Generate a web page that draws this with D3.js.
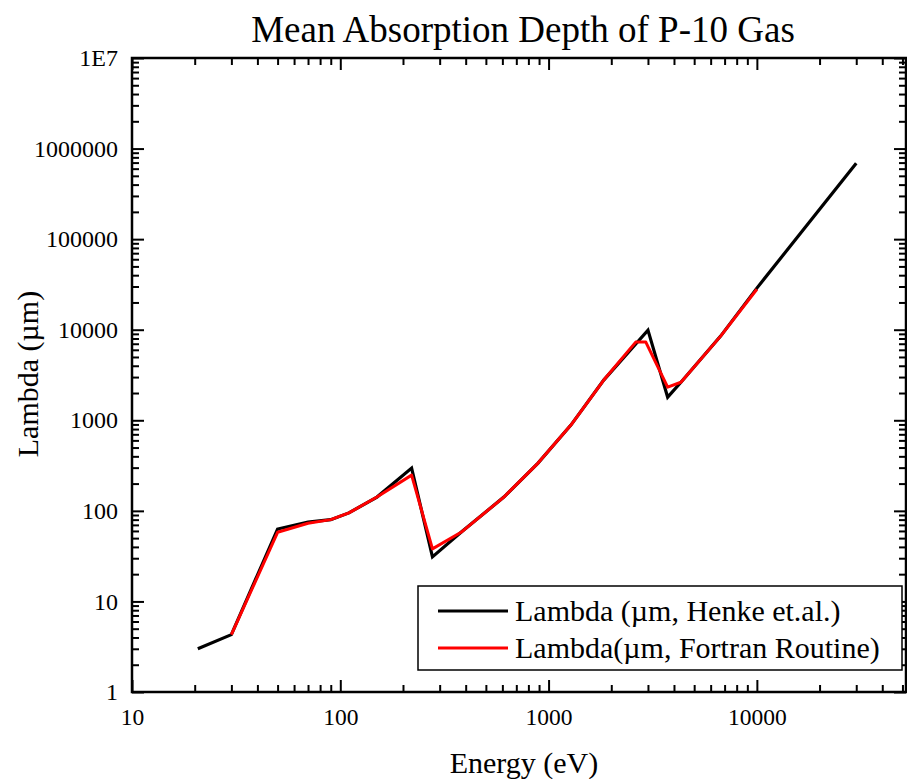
<!DOCTYPE html>
<html>
<head>
<meta charset="utf-8">
<script src="https://cdn.jsdelivr.net/npm/d3@7"></script>
<style>
  html, body { margin: 0; padding: 0; background: #fff; }
  svg { display: block; }
  svg text { font-family: "Liberation Serif", serif; fill: #000; }
</style>
</head>
<body>
<svg id="chart" width="907" height="779"></svg>
<script>
// Mean absorption depth of P-10 gas versus photon energy
const henkeEnergy = [20.7, 30, 50, 70, 90, 110, 150, 220, 277, 380, 610, 890, 1280, 1840, 3000, 3730, 4320, 6700, 10000, 30000];
const henkeLambda = [3.0, 4.3, 63, 75, 80, 95, 142, 297, 31, 58, 142, 337, 885, 2780, 9900, 1800, 2630, 8500, 28800, 690000];

const fortranEnergy = [30, 50, 70, 90, 110, 150, 220, 277, 380, 610, 890, 1280, 1840, 2620, 2930, 3730, 4320, 6700, 10000];
const fortranLambda = [4.3, 58, 73, 80, 95, 142, 248, 38, 58, 142, 337, 885, 2780, 7300, 7300, 2320, 2630, 8500, 28000];

const xTickValues = [10, 100, 1000, 10000];
const xTickLabels = ["10", "100", "1000", "10000"];
const yTickValues = [1, 10, 100, 1000, 10000, 100000, 1000000, 10000000];
const yTickLabels = ["1", "10", "100", "1000", "10000", "100000", "1000000", "1E7"];

const seriesNames = ["Lambda (\u00b5m, Henke et.al.)", "Lambda(\u00b5m, Fortran Routine)"];
const seriesColors = ["#000000", "#ff0000"];

const FONT = "Liberation Serif, serif";
const svg = d3.select("#chart");
const plotL = 132, plotR = 906, plotT = 58, plotB = 692;

const x = d3.scaleLog().domain([10, 52000]).range([plotL, plotR]);
const y = d3.scaleLog().domain([1, 1e7]).range([plotB, plotT]);

// minor ticks: 2..9 within each decade
function minors(lo, hi) {
  const out = [];
  for (let d = lo; d < hi; d *= 10) {
    for (let k = 2; k <= 9; k++) { const v = d * k; if (v <= hi) out.push(v); }
  }
  return out;
}
const xMinor = minors(10, 52000);
const yMinor = minors(1, 1e7);

const majorLen = 12, minorLen = 7;

function styleAxis(g) {
  g.attr("font-family", FONT);
  g.select(".domain").remove();
  g.selectAll("line").attr("stroke", "#000").attr("stroke-width", 2);
}

// bottom axis, ticks inward
svg.append("g").attr("transform", `translate(0,${plotB})`)
  .call(d3.axisBottom(x).tickValues(xTickValues).tickSize(-majorLen).tickPadding(16)
    .tickFormat((d, i) => xTickLabels[i]))
  .call(styleAxis)
  .call(g => g.selectAll("text").attr("font-size", 23.5).attr("fill", "#000")
    .attr("font-family", FONT));
svg.append("g").attr("transform", `translate(0,${plotB})`)
  .call(d3.axisBottom(x).tickValues(xMinor).tickSize(-minorLen).tickFormat(""))
  .call(styleAxis);

// top axis mirror
svg.append("g").attr("transform", `translate(0,${plotT})`)
  .call(d3.axisTop(x).tickValues(xTickValues).tickSize(-majorLen).tickFormat(""))
  .call(styleAxis);
svg.append("g").attr("transform", `translate(0,${plotT})`)
  .call(d3.axisTop(x).tickValues(xMinor).tickSize(-minorLen).tickFormat(""))
  .call(styleAxis);

// left axis, ticks inward
svg.append("g").attr("transform", `translate(${plotL},0)`)
  .call(d3.axisLeft(y).tickValues(yTickValues).tickSize(-majorLen).tickPadding(14)
    .tickFormat((d, i) => yTickLabels[i]))
  .call(styleAxis)
  .call(g => g.selectAll("text").attr("font-size", 24).attr("fill", "#000")
    .attr("font-family", FONT));
svg.append("g").attr("transform", `translate(${plotL},0)`)
  .call(d3.axisLeft(y).tickValues(yMinor).tickSize(-minorLen).tickFormat(""))
  .call(styleAxis);

// right axis mirror
svg.append("g").attr("transform", `translate(${plotR},0)`)
  .call(d3.axisRight(y).tickValues(yTickValues).tickSize(-majorLen).tickFormat(""))
  .call(styleAxis);
svg.append("g").attr("transform", `translate(${plotR},0)`)
  .call(d3.axisRight(y).tickValues(yMinor).tickSize(-minorLen).tickFormat(""))
  .call(styleAxis);

// frame
svg.append("rect")
  .attr("x", plotL).attr("y", plotT)
  .attr("width", plotR - plotL).attr("height", plotB - plotT)
  .attr("fill", "none").attr("stroke", "#000").attr("stroke-width", 2.5);

// series
const line = d3.line().x(d => x(d[0])).y(d => y(d[1]));
const henke = henkeEnergy.map((e, i) => [e, henkeLambda[i]]);
const fortran = fortranEnergy.map((e, i) => [e, fortranLambda[i]]);

svg.append("path").datum(henke)
  .attr("d", line).attr("fill", "none")
  .attr("stroke", seriesColors[0]).attr("stroke-width", 3.2)
  .attr("stroke-linejoin", "miter");
svg.append("path").datum(fortran)
  .attr("d", line).attr("fill", "none")
  .attr("stroke", seriesColors[1]).attr("stroke-width", 3)
  .attr("stroke-linejoin", "round");

// legend
const legend = svg.append("g");
legend.append("rect")
  .attr("x", 418).attr("y", 586).attr("width", 484).attr("height", 84)
  .attr("fill", "#fff").attr("stroke", "#000").attr("stroke-width", 1.5);
seriesNames.forEach((name, i) => {
  const ly = 611 + i * 37;
  legend.append("line")
    .attr("x1", 438).attr("x2", 508).attr("y1", ly).attr("y2", ly)
    .attr("stroke", seriesColors[i]).attr("stroke-width", 3);
  legend.append("text")
    .attr("x", 515).attr("y", ly + 10)
    .attr("font-family", FONT)
    .attr("font-size", 30).attr("fill", "#000")
    .text(name);
});

// titles
svg.append("text")
  .attr("x", 523).attr("y", 42).attr("text-anchor", "middle")
  .attr("font-family", FONT)
  .attr("font-size", 37).attr("fill", "#000")
  .text("Mean Absorption Depth of P-10 Gas");

svg.append("text")
  .attr("x", 524).attr("y", 773).attr("text-anchor", "middle")
  .attr("font-family", FONT)
  .attr("font-size", 30).attr("fill", "#000")
  .text("Energy (eV)");

svg.append("text")
  .attr("transform", "translate(38,374) rotate(-90)")
  .attr("text-anchor", "middle")
  .attr("font-family", FONT)
  .attr("font-size", 30).attr("fill", "#000")
  .text("Lambda (\u00b5m)");
</script>
</body>
</html>
